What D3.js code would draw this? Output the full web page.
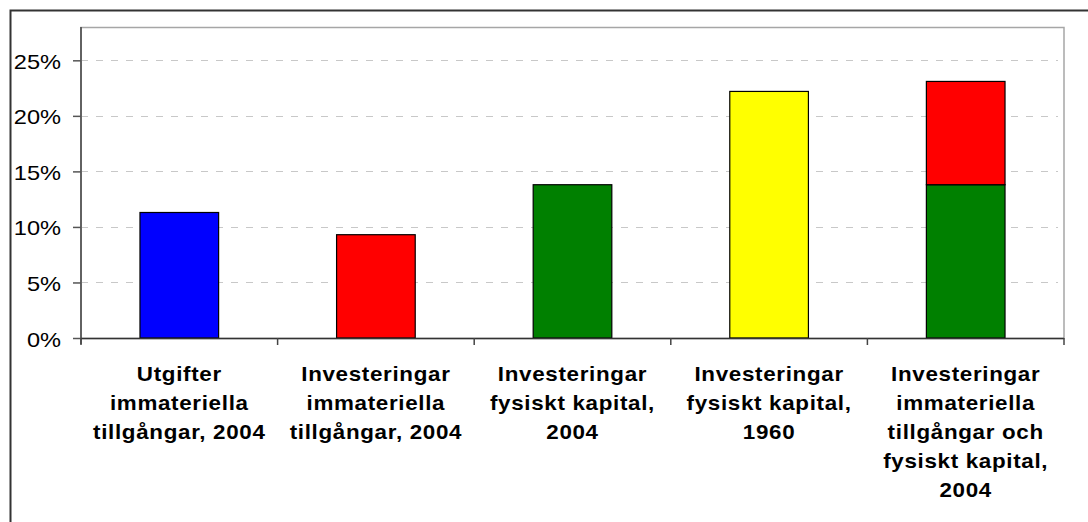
<!DOCTYPE html>
<html>
<head>
<meta charset="utf-8">
<script src="https://cdn.jsdelivr.net/npm/d3@7"></script>
<style>
  html, body { margin: 0; padding: 0; background: #fff; }
  svg { display: block; }
  text { font-family: "Liberation Sans", Arial, sans-serif; fill: #000; }
</style>
</head>
<body>
<svg id="chart" width="1088" height="522"></svg>
<script>
// ---- Data ----
const categories = [
  ["Utgifter", "immateriella", "tillgångar, 2004"],
  ["Investeringar", "immateriella", "tillgångar, 2004"],
  ["Investeringar", "fysiskt kapital,", "2004"],
  ["Investeringar", "fysiskt kapital,", "1960"],
  ["Investeringar", "immateriella", "tillgångar och", "fysiskt kapital,", "2004"]
];
const seriesKeys = ["fysisktKapital", "immateriellaInv", "immateriellaUtg", "fysisktKapital1960"];
const fysisktKapital     = [0, 0, 0.138, 0, 0.138];
const immateriellaInv    = [0, 0.093, 0, 0, 0.093];
const immateriellaUtg    = [0.113, 0, 0, 0, 0];
const fysisktKapital1960 = [0, 0, 0, 0.222, 0];
const seriesColors = ["#008000", "#FF0000", "#0000FF", "#FFFF00"];
const yTicks = [0, 0.05, 0.10, 0.15, 0.20, 0.25];
const yMax = 0.28;

// ---- Layout ----
const svg = d3.select("#chart");
const plot = { left: 81, top: 27, right: 1064, bottom: 338 };

const table = categories.map((c, i) => ({
  idx: i,
  fysisktKapital: fysisktKapital[i],
  immateriellaInv: immateriellaInv[i],
  immateriellaUtg: immateriellaUtg[i],
  fysisktKapital1960: fysisktKapital1960[i]
}));

const x = d3.scaleBand().domain(d3.range(categories.length))
  .range([plot.left, plot.right]).paddingInner(0.6).paddingOuter(0.3);
const xb = d3.scaleBand().domain(d3.range(categories.length))
  .range([plot.left, plot.right]).padding(0);
const y = d3.scaleLinear().domain([0, yMax]).range([plot.bottom, plot.top]);

// outer chart border
svg.append("rect").attr("x", 10.5).attr("y", 10.5).attr("width", 1200).attr("height", 700)
  .attr("fill", "none").attr("stroke", "#333").attr("stroke-width", 2);

// plot area border (top/right gray)
svg.append("rect").attr("x", plot.left).attr("y", plot.top + 0.5)
  .attr("width", plot.right - plot.left).attr("height", plot.bottom - plot.top)
  .attr("fill", "#fff").attr("stroke", "#a6a6a6").attr("stroke-width", 1.5);

// gridlines
svg.append("g").selectAll("line").data(yTicks.filter(d => d > 0)).join("line")
  .attr("x1", plot.left).attr("x2", plot.right - 6)
  .attr("y1", d => Math.round(y(d)) + 0.5).attr("y2", d => Math.round(y(d)) + 0.5)
  .attr("stroke", "#c8c8c8").attr("stroke-width", 1).attr("stroke-dasharray", "7,8");

// bars
const stacked = d3.stack().keys(seriesKeys)(table);
svg.append("g").selectAll("g").data(stacked).join("g")
  .attr("fill", (d, i) => seriesColors[i])
  .selectAll("rect").data(d => d.filter(p => p[1] - p[0] > 0)).join("rect")
  .attr("x", p => x(p.data.idx))
  .attr("width", x.bandwidth())
  .attr("y", p => y(p[1]))
  .attr("height", p => y(p[0]) - y(p[1]))
  .attr("stroke", "#000").attr("stroke-width", 1.2);

// y axis
const yAxis = d3.axisLeft(y).tickValues(yTicks).tickFormat(d3.format(".0%"))
  .tickSize(8).tickPadding(12);
const gy = svg.append("g").attr("transform", `translate(${plot.left},0)`).call(yAxis);
gy.select(".domain").attr("stroke", "#444").attr("stroke-width", 1.5)
  .attr("d", `M0,${plot.top}V${plot.bottom + 6}`);
gy.selectAll(".tick line").attr("stroke", "#555").attr("stroke-width", 1.5);
gy.selectAll(".tick text")
  .attr("font-size", 20).attr("fill", "#000")
  .attr("x", null).attr("dy", null).attr("dominant-baseline", null)
  .attr("transform", "translate(-20,8) scale(1.18,1)")
  .attr("text-anchor", "end");

// x axis baseline & ticks at category boundaries
svg.append("line").attr("x1", plot.left).attr("x2", plot.right)
  .attr("y1", plot.bottom + 0.5).attr("y2", plot.bottom + 0.5)
  .attr("stroke", "#333").attr("stroke-width", 1.5);
const bounds = d3.range(categories.length + 1).map(i => i < categories.length ? xb(i) : plot.right);
svg.append("g").selectAll("line").data(bounds).join("line")
  .attr("x1", d => d).attr("x2", d => d)
  .attr("y1", plot.bottom).attr("y2", plot.bottom + 7)
  .attr("stroke", "#444").attr("stroke-width", 1.5);

// category labels
const lab = svg.append("g").selectAll("g").data(categories).join("g")
  .attr("transform", (d, i) => `translate(${xb(i) + xb.bandwidth() / 2},381) scale(1.12,1)`);
lab.each(function(lines) {
  const t = d3.select(this).append("text")
    .attr("text-anchor", "middle").attr("font-size", 20).attr("font-weight", "bold")
    .attr("letter-spacing", 0.6);
  lines.forEach((ln, j) => t.append("tspan").attr("x", 0).attr("y", j * 29).text(ln));
});
</script>
</body>
</html>
